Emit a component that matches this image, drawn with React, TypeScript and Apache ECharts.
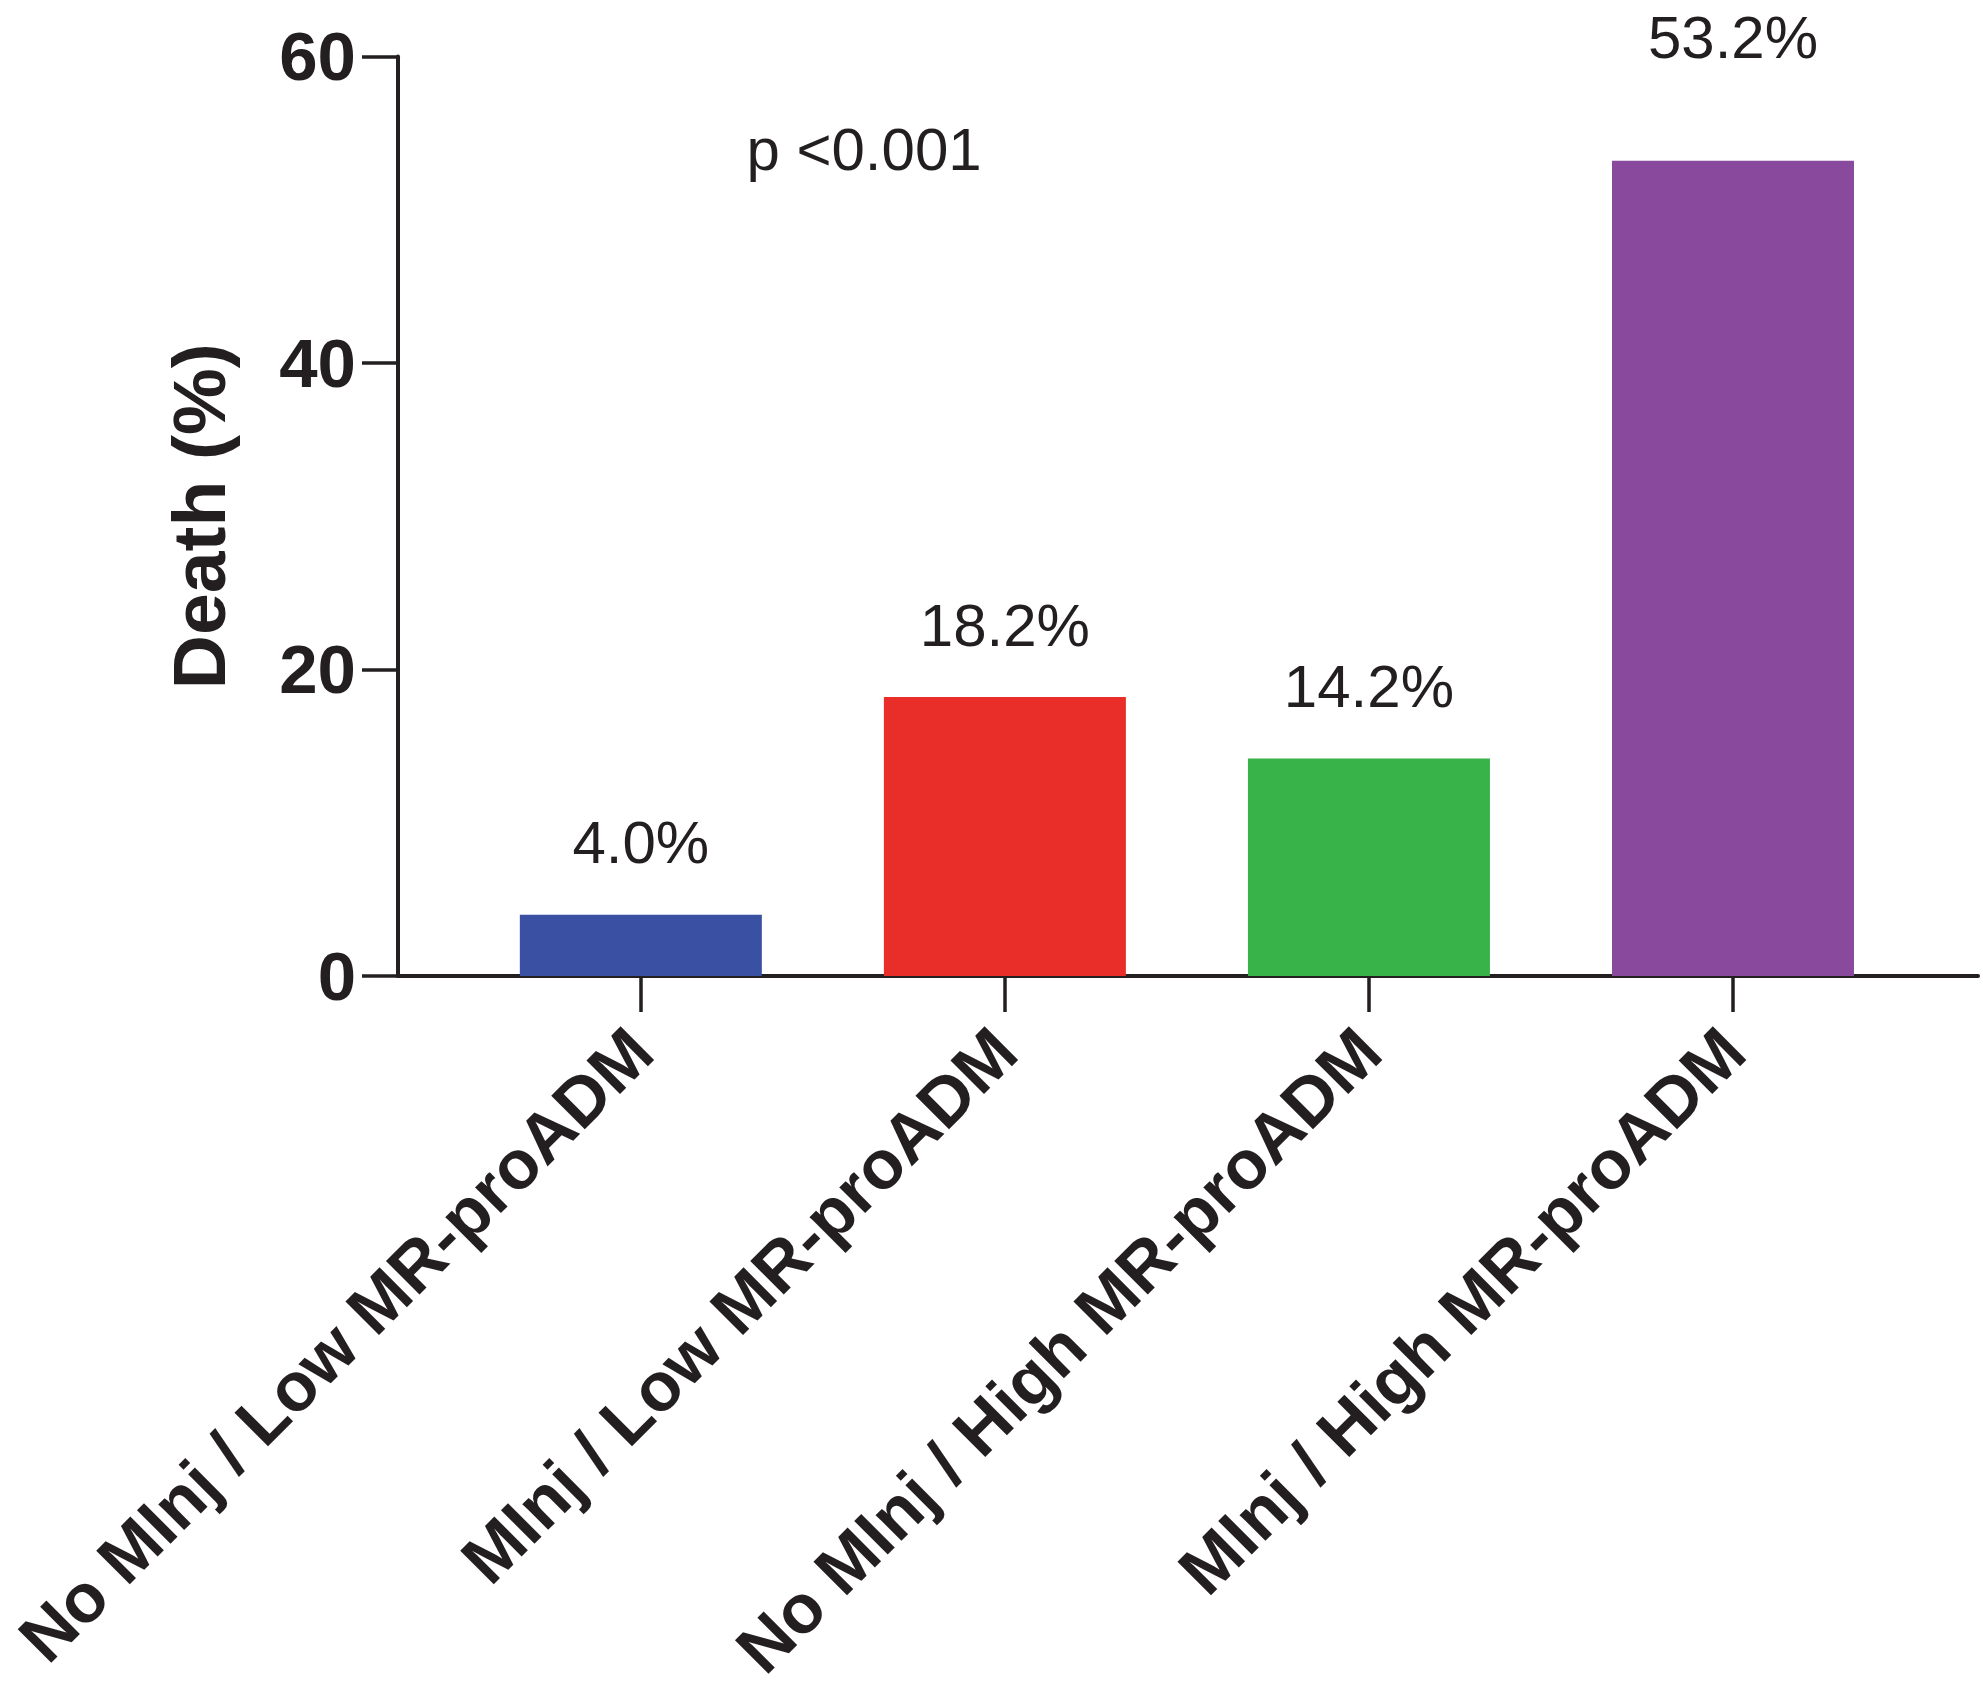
import React, { useEffect, useRef } from "react";
import * as echarts from "echarts";

const categories = [
  "No MInj / Low MR-proADM",
  "MInj / Low MR-proADM",
  "No MInj / High MR-proADM",
  "MInj / High MR-proADM",
];
const deathPct = [4.0, 18.2, 14.2, 53.2];
const barColors = ["#3A50A2", "#E92D28", "#38B34A", "#894A9D"];
const labelDistances = [42, 42, 42, 93];
const yTicks = { min: 0, max: 60, interval: 20 };
const pValueText = "p <0.001";
const yTitle = "Death (%)";

const FONT = "'Liberation Sans', Arial, Helvetica, sans-serif";
const INK = "#231F20";

export default function App() {
  const ref = useRef<HTMLDivElement>(null);

  useEffect(() => {
    document.body.style.margin = "0";
    if (!ref.current) return;
    const chart = echarts.init(ref.current, undefined, { renderer: "svg" });

    const positions = categories.map((_, i) => i);

    const option: any = {
      animation: false,
      backgroundColor: "#ffffff",
      grid: {
        left: 398,
        right: 5,
        top: 56.5,
        bottom: 725,
        containLabel: false,
        outerBoundsMode: "none",
      },
      xAxis: {
        type: "value",
        min: -0.667,
        max: 3.673,
        splitLine: { show: false },
        axisLine: { show: true, onZero: false, lineStyle: { color: INK, width: 4 } },
        axisTick: {
          show: true,
          length: 36,
          customValues: positions,
          lineStyle: { color: INK, width: 3.5 },
        },
        axisLabel: {
          show: true,
          customValues: positions,
          rotate: 45,
          margin: 64,
          color: INK,
          fontFamily: FONT,
          fontWeight: "bold",
          fontSize: 69,
          formatter: (v: number) => categories[Math.round(v)] ?? "",
        },
      },
      yAxis: {
        type: "value",
        min: yTicks.min,
        max: yTicks.max,
        interval: yTicks.interval,
        name: yTitle,
        nameLocation: "middle",
        nameGap: 162,
        nameTextStyle: {
          color: INK,
          fontFamily: FONT,
          fontWeight: "bold",
          fontSize: 75,
        },
        splitLine: { show: false },
        axisLine: { show: true, onZero: false, lineStyle: { color: INK, width: 4 } },
        axisTick: { show: true, length: 36, lineStyle: { color: INK, width: 3.5 } },
        axisLabel: {
          show: true,
          margin: 42,
          color: INK,
          fontFamily: FONT,
          fontWeight: "bold",
          fontSize: 69,
        },
      },
      series: [
        {
          type: "bar",
          barWidth: 242,
          data: deathPct.map((v, i) => ({
            value: [positions[i], v],
            itemStyle: { color: barColors[i] },
            label: { distance: labelDistances[i] },
          })),
          label: {
            show: true,
            position: "top",
            color: INK,
            fontFamily: FONT,
            fontSize: 60,
            formatter: (p: any) => `${Number(p.value[1]).toFixed(1)}%`,
          },
        },
      ],
      graphic: [
        {
          type: "text",
          x: 864,
          y: 149,
          style: {
            text: pValueText,
            align: "center",
            verticalAlign: "middle",
            fill: INK,
            font: `60px ${FONT}`,
          },
        },
      ],
    };

    chart.setOption(option);
    return () => chart.dispose();
  }, []);

  return <div ref={ref} style={{ width: 1983, height: 1701 }} />;
}
